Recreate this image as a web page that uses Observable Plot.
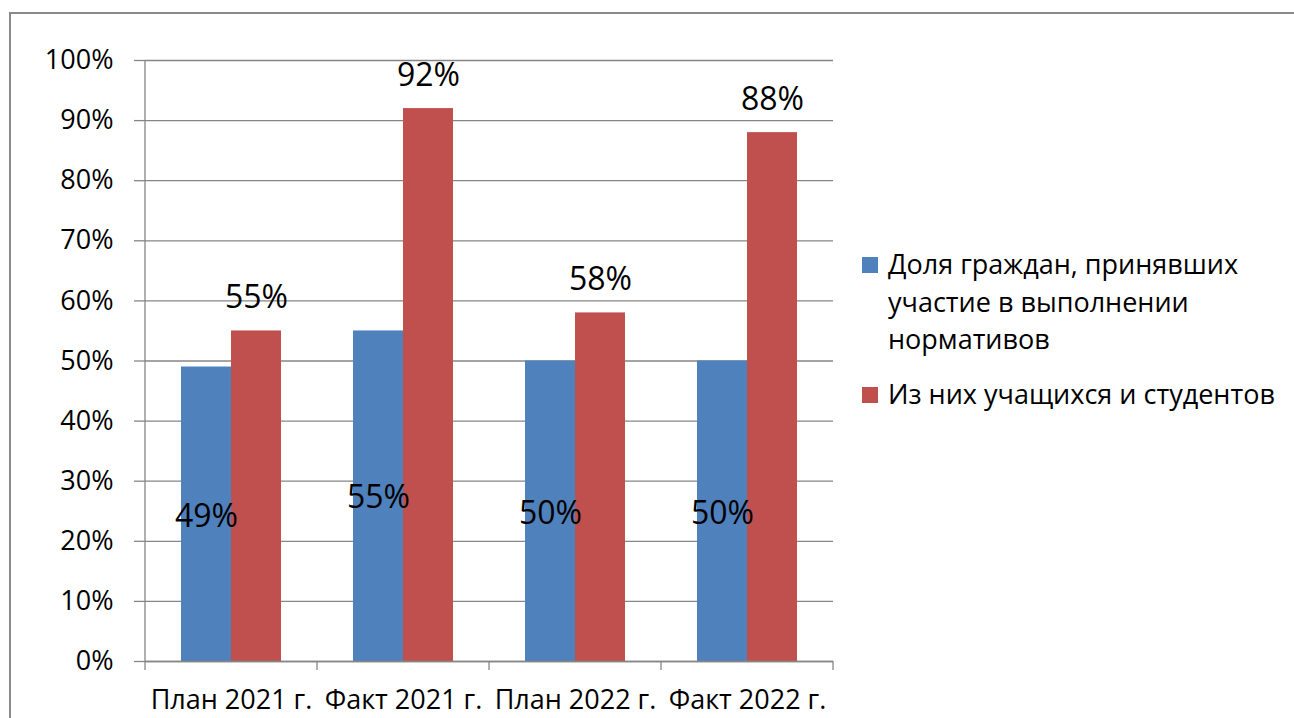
<!DOCTYPE html>
<html>
<head>
<meta charset="utf-8">
<script src="https://cdn.jsdelivr.net/npm/d3@7"></script>
<script src="https://cdn.jsdelivr.net/npm/@observablehq/plot@0.6"></script>
<style>
  html, body { margin: 0; padding: 0; background: #fff; width: 1294px; height: 718px; overflow: hidden; }
  #wrap { position: relative; width: 1294px; height: 718px; font-family: "Open Sans", sans-serif; }
  #border { position: absolute; left: 9px; top: 12px; width: 1300px; height: 720px; border: 2px solid #8a8a8a; box-sizing: border-box; }
  #chart { position: absolute; left: 0; top: 0; }
  #legend { position: absolute; left: 862px; top: 245px; width: 430px; font-size: 27px; line-height: 37.5px; color: #000; }
  .item { display: flex; align-items: flex-start; margin-bottom: 17.5px; }
  .sw { width: 16px; height: 16px; flex: none; margin-top: 12px; margin-right: 10px; }
  .lbl { width: 402px; }
</style>
</head>
<body>
<div id="wrap">
  <div id="border"></div>
  <div id="chart"></div>
  <div id="legend"></div>
</div>
<script>
const categories = ["План 2021 г.", "Факт 2021 г.", "План 2022 г.", "Факт 2022 г."];
const series = ["Доля граждан, принявших участие в выполнении нормативов", "Из них учащихся и студентов"];
const shareValues = [0.49, 0.55, 0.50, 0.50];
const studentValues = [0.55, 0.92, 0.58, 0.88];
const yTicks = [0, 0.1, 0.2, 0.3, 0.4, 0.5, 0.6, 0.7, 0.8, 0.9, 1.0];
const colors = ["#4F81BD", "#C0504D"];

const rows = [];
categories.forEach((c, i) => {
  rows.push({cat: c, series: series[0], value: shareValues[i]});
  rows.push({cat: c, series: series[1], value: studentValues[i]});
});
const pct = d3.format(".0%");
const gray = "#868686";

const chart = Plot.plot({
  width: 1294,
  height: 718,
  marginLeft: 145,
  marginRight: 461,
  marginTop: 60,
  marginBottom: 57,
  style: {fontFamily: "Open Sans, sans-serif", background: "transparent", color: "#000"},
  fx: {domain: categories, padding: 0, label: null},
  x: {domain: series, paddingInner: 0, paddingOuter: 0.72, axis: null},
  y: {domain: [0, 1], label: null},
  color: {domain: series, range: colors},
  marks: [
    Plot.gridY({ticks: yTicks, stroke: gray, strokeOpacity: 1, strokeWidth: 1.3}),
    Plot.barY(rows, {fx: "cat", x: "series", y: "value", fill: "series"}),
    Plot.ruleY([0], {stroke: gray, strokeWidth: 1.3}),
    Plot.axisY({ticks: yTicks, tickFormat: pct, tickSize: 11, tickPadding: 21, fontSize: 27, stroke: gray, strokeWidth: 1.3, label: null}),
    Plot.axisFx({anchor: "bottom", tickSize: 0, tickPadding: 28, fontSize: 27, label: null}),
    Plot.text(rows.filter(d => d.series === series[0]), {fx: "cat", x: "series", y: d => d.value / 2, dy: 2, text: d => pct(d.value), fontSize: 32, fill: "#000"}),
    Plot.text(rows.filter(d => d.series === series[1]), {fx: "cat", x: "series", y: "value", dy: -33, text: d => pct(d.value), fontSize: 32, fill: "#000"})
  ]
});
document.getElementById("chart").appendChild(chart);

// axis line and category boundary ticks, positioned from Plot's scales
const svg = d3.select(chart);
const fx = chart.scale("fx");
const y = chart.scale("y");
const y0 = y.apply(0), y1 = y.apply(1);
const left = fx.apply(categories[0]);
const g = svg.append("g").attr("stroke", gray).attr("stroke-width", 1.3);
g.append("line").attr("x1", left).attr("x2", left).attr("y1", y1).attr("y2", y0);
const bounds = categories.map(c => fx.apply(c));
bounds.push(fx.apply(categories[categories.length - 1]) + fx.bandwidth);
bounds.forEach(x => g.append("line").attr("x1", x).attr("x2", x).attr("y1", y0).attr("y2", y0 + 9));

// legend
const legend = d3.select("#legend");
series.forEach((s, i) => {
  const it = legend.append("div").attr("class", "item");
  it.append("div").attr("class", "sw").style("background", colors[i]);
  it.append("div").attr("class", "lbl").text(s);
});
</script>
</body>
</html>
